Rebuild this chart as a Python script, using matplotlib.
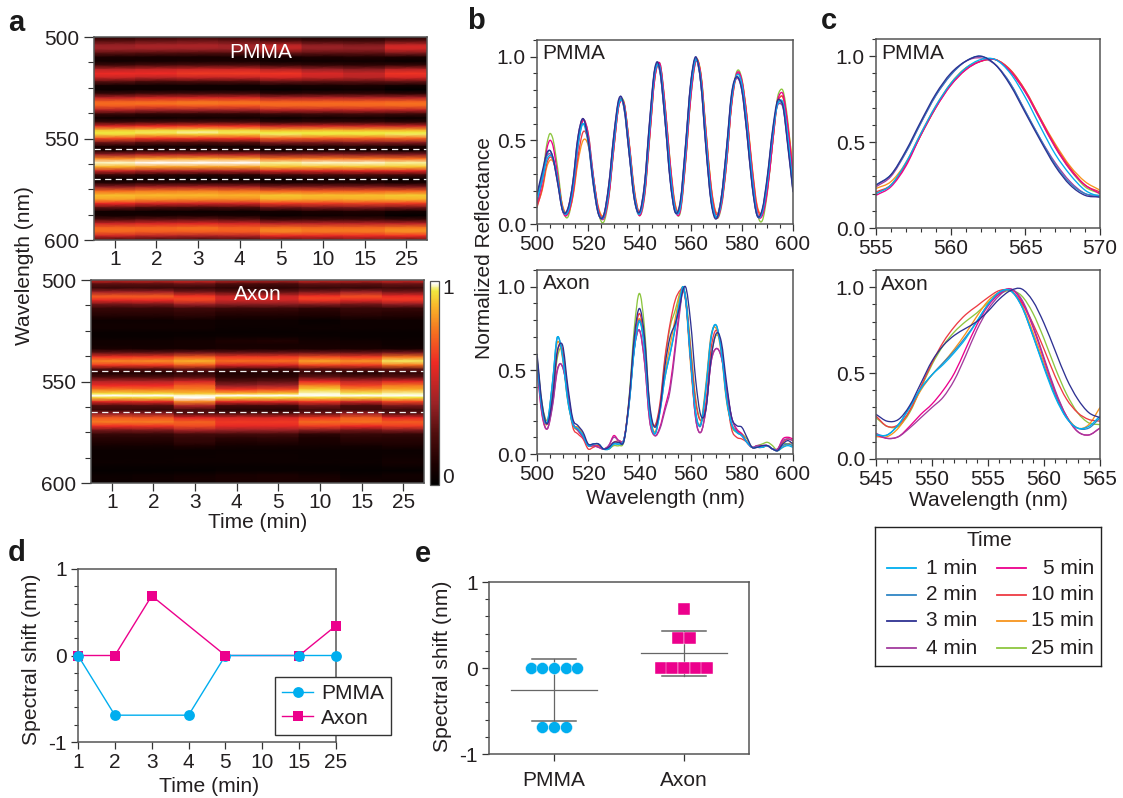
import numpy as np
import matplotlib
matplotlib.use('Agg')
import matplotlib.pyplot as plt
from matplotlib.colors import LinearSegmentedColormap
from matplotlib.cm import ScalarMappable
from matplotlib.colors import Normalize
from matplotlib.lines import Line2D
from matplotlib.patches import PathPatch
from matplotlib.path import Path
from matplotlib.ticker import MultipleLocator

plt.rcParams['font.family'] = ['Liberation Sans', 'DejaVu Sans']
W, H = 1123, 798
TXT = '#231f20'

time_labels = ['1', '2', '3', '4', '5', '10', '15', '25']
legend_labels = ['1 min', '2 min', '3 min', '4 min', '5 min', '10 min', '15 min', '25 min']
curve_colors = ['#00aeef', '#2f86c5', '#2e3192', '#a23c9e', '#ec008c', '#ee3a43', '#f7941d', '#8dc63f']
draw_order = [7, 6, 5, 4, 3, 1, 0, 2]

pmma_wl = [500,502,504,505,506,508,510,512,514,516,518,520,522,524,526,528,530,532,533,534,536,538,540,542,544,546,547,548,550,552,554,556,558,560,562,564,566,568,570,572,574,576,578,580,582,584,586,588,590,592,594,595,596,598,600]
pmma_1 = [14,26,39,41,40,27,9,7,21,47,60,51,27,7,4,19,48,72,74,71,46,18,6,20,56,90,95,94,67,32,9,10,41,79,98,87,51,18,4,13,39,74,89,84,60,29,6,7,25,52,72,74,73,52,22]
pmma_2 = [17,29,42,44,41,26,8,8,24,50,60,48,23,6,5,22,52,73,75,69,42,15,6,23,60,92,96,91,62,27,7,13,46,83,99,84,46,14,4,16,44,77,88,81,55,24,5,8,28,55,72,73,71,48,20]
pmma_3 = [18,31,43,44,41,25,8,9,25,52,63,50,24,6,5,23,53,75,76,70,42,15,7,24,62,93,97,92,62,26,7,14,47,84,100,84,45,13,3,16,45,78,88,80,54,23,5,9,29,56,74,74,71,46,19]
pmma_4 = [17,29,41,42,40,25,8,9,25,52,63,50,24,6,5,23,53,74,75,69,42,15,7,24,61,92,96,91,62,27,7,13,46,83,99,84,46,14,4,16,44,76,87,80,54,24,5,8,27,54,71,72,70,47,20]
pmma_5 = [12,25,46,50,48,30,8,6,19,46,62,54,29,8,3,16,45,71,74,72,48,19,5,17,52,87,95,96,71,36,9,8,37,75,97,89,54,20,4,11,36,72,90,86,63,32,7,5,20,48,74,78,78,58,27]
pmma_10 = [10,21,37,40,39,28,10,6,17,40,55,50,28,9,4,17,46,71,74,72,48,20,7,18,53,88,95,95,70,35,11,9,38,76,98,89,55,22,6,12,36,71,89,85,64,34,10,6,21,48,73,76,76,58,30]
pmma_15 = [11,20,35,38,38,28,11,6,16,37,50,47,28,10,5,17,45,71,74,72,49,21,7,18,52,87,95,95,71,37,12,9,37,75,98,90,56,23,7,12,36,71,89,86,65,35,11,7,21,48,73,76,76,59,33]
pmma_25 = [12,27,49,54,52,34,10,4,18,47,62,54,29,7,1,15,45,72,75,73,48,19,5,16,51,87,95,96,72,37,10,7,36,74,97,90,56,22,4,10,35,72,91,87,64,33,7,2,19,48,76,80,80,61,30]

axon_wl = [500,502,504,506,508,509,510,512,514,516,518,520,522,524,526,528,530,532,534,536,538,540,542,544,546,548,550,552,554,556,557,558,560,562,564,566,568,570,572,574,576,578,580,582,584,586,588,590,592,594,596,598,600]
axon_1 = [56,27,19,42,70,67,58,32,18,15,11,5,6,6,3,3,6,6,9,30,62,79,63,25,12,25,46,60,76,94,100,93,56,24,18,40,70,77,61,33,18,13,11,7,4,4,4,5,3,2,4,5,4]
axon_2 = [56,27,19,42,70,67,59,33,18,15,11,5,6,6,3,3,6,6,8,30,63,80,63,25,12,25,46,60,75,93,100,94,57,25,17,39,69,77,62,34,18,13,11,7,4,4,4,5,3,2,5,6,5]
axon_3 = [60,30,18,33,62,66,65,41,21,17,13,6,6,6,3,4,7,7,8,33,70,87,70,30,16,27,53,70,78,90,98,100,79,44,23,27,57,72,67,43,22,17,16,10,4,4,5,5,3,2,6,8,6]
axon_4 = [52,24,15,28,50,54,52,37,19,14,10,5,5,4,3,5,10,8,9,31,63,74,55,20,11,15,26,38,62,88,99,93,57,21,13,27,55,63,58,40,22,14,11,7,4,5,5,5,3,3,8,9,8]
axon_5 = [51,23,15,29,51,54,52,37,19,14,10,5,5,4,3,5,11,8,9,31,63,74,55,20,11,16,28,41,65,90,99,93,56,21,13,27,55,63,58,40,22,15,12,7,4,5,5,5,3,3,9,10,9]
axon_10 = [57,28,18,34,61,66,62,36,16,12,9,3,4,5,3,4,7,8,9,32,67,84,66,26,17,30,58,78,92,98,99,93,62,31,20,31,63,74,64,36,15,10,9,7,4,4,4,5,3,3,7,9,8]
axon_15 = [55,27,18,41,67,65,57,32,18,16,12,5,5,5,3,3,6,7,9,31,64,81,64,27,13,27,49,65,81,96,99,92,53,23,19,42,71,75,60,32,18,14,12,7,4,4,4,5,3,2,4,6,7]
axon_25 = [58,30,20,33,58,63,62,38,18,14,11,5,5,5,3,3,5,5,8,34,75,96,75,28,17,28,56,76,86,97,100,95,65,33,20,28,58,71,64,36,17,13,12,9,4,5,6,7,5,2,6,6,5]

zoom_pmma_wl = [555,556,557,558,559,560,561,562,563,564,565,566,567,568,569,570]
zoom_pmma_1 = [20,25,38,55,71,84,93,98,98,90,76,59,43,31,22,18]
zoom_pmma_2 = [25,31,44,61,77,89,97,100,95,84,68,52,37,26,20,19]
zoom_pmma_3 = [25,31,45,62,78,90,97,100,95,83,67,51,36,25,19,18]
zoom_pmma_4 = [24,30,44,61,77,89,97,99,95,84,68,52,38,27,20,18]
zoom_pmma_5 = [19,24,36,54,70,83,92,97,98,91,79,63,47,34,25,20]
zoom_pmma_10 = [21,25,37,54,70,83,92,97,98,92,80,64,48,35,25,21]
zoom_pmma_15 = [23,27,38,55,71,84,93,97,98,92,80,64,49,36,27,22]
zoom_pmma_25 = [20,25,37,54,70,84,93,97,98,91,79,63,47,34,24,20]

zoom_axon_wl = [545,546,547,548,549,550,551,552,553,554,555,556,557,558,559,560,561,562,563,564,565]
zoom_axon_1 = [14,14,20,30,41,49,55,62,70,80,90,97,98,89,72,53,36,24,18,19,25]
zoom_axon_2 = [14,14,20,30,41,49,56,63,71,80,90,97,98,89,72,54,37,24,18,18,24]
zoom_axon_3 = [26,22,23,31,44,57,66,72,76,80,86,93,98,99,92,79,63,47,35,27,24]
zoom_axon_4 = [15,12,13,18,24,30,36,46,60,75,87,95,99,93,78,59,40,25,16,14,18]
zoom_axon_5 = [14,12,13,19,26,32,40,50,64,78,89,96,99,92,77,58,39,25,16,14,18]
zoom_axon_10 = [25,19,20,28,42,56,68,77,84,89,94,98,98,91,79,64,48,35,27,23,22]
zoom_axon_15 = [13,13,18,28,40,49,56,64,73,83,92,97,98,90,74,56,38,25,18,20,30]
zoom_axon_25 = [24,19,19,27,41,55,66,74,80,85,91,96,98,95,85,70,53,38,27,21,20]

# Panels d and e
shift_times_pmma = ['1', '2', '4', '5', '15', '25']
shift_pmma = [0, -0.69, -0.69, 0, 0, 0]
shift_times_axon = ['1', '2', '3', '5', '15', '25']
shift_axon = [0, 0, 0.69, 0, 0, 0.345]
swarm_pmma = [0, 0, 0, 0, 0, -0.69, -0.69, -0.69]
swarm_axon = [0, 0, 0, 0, 0, 0.345, 0.345, 0.69]
mean_pmma, upper_pmma, lower_pmma = -0.26, 0.10, -0.615
mean_axon, upper_axon, lower_axon = 0.17, 0.43, -0.09

PMMA = [pmma_1, pmma_2, pmma_3, pmma_4, pmma_5, pmma_10, pmma_15, pmma_25]
AXON = [axon_1, axon_2, axon_3, axon_4, axon_5, axon_10, axon_15, axon_25]
ZP = [zoom_pmma_1, zoom_pmma_2, zoom_pmma_3, zoom_pmma_4, zoom_pmma_5, zoom_pmma_10, zoom_pmma_15, zoom_pmma_25]
ZA = [zoom_axon_1, zoom_axon_2, zoom_axon_3, zoom_axon_4, zoom_axon_5, zoom_axon_10, zoom_axon_15, zoom_axon_25]

cmap = LinearSegmentedColormap.from_list('film', [
    (0.0, '#000000'), (0.1, '#1c0000'), (0.25, '#4f0d0d'), (0.4, '#9a2226'), (0.6, '#ee2a24'),
    (0.75, '#f5701f'), (0.88, '#f9b82a'), (0.955, '#f0e840'), (0.99, '#ffffff'), (1.0, '#ffffff')])

fig = plt.figure(figsize=(W / 100, H / 100), dpi=100)


def axpx(l, t, r, b):
    return fig.add_axes([l / W, 1 - b / H, (r - l) / W, (b - t) / H])


def ftext(x, y, s, **kw):
    kw.setdefault('color', TXT)
    kw.setdefault('ha', 'center')
    kw.setdefault('va', 'center')
    return fig.text(x / W, 1 - y / H, s, **kw)


def style(ax, size=15):
    ax.tick_params(which='major', direction='out', length=6, width=0.9, color='#333333',
                   labelsize=size, labelcolor=TXT, pad=3)
    ax.tick_params(which='minor', direction='out', length=3.5, width=0.8, color='#333333')
    for s in ax.spines.values():
        s.set_color('#555555')
        s.set_linewidth(1.1)


def heat(ax, wl, data, lo, hi, label):
    for i, col in enumerate(data):
        v = np.array(col) / 100
        ax.pcolormesh([i + 0.5, i + 1.5], wl, np.column_stack([v, v]), shading='gouraud',
                      cmap=cmap, vmin=0, vmax=1)
    ax.set_xlim(0.5, 8.5)
    ax.set_ylim(600, 500)
    ax.set_xticks(range(1, 9))
    ax.set_xticklabels(time_labels)
    ax.set_yticks([500, 550, 600])
    ax.yaxis.set_minor_locator(MultipleLocator(12.5))
    style(ax)
    ax.tick_params(axis='x', pad=1)
    ax.tick_params(axis='y', which='major', length=7.5)
    ax.tick_params(axis='y', which='minor', length=4)
    for y in (lo, hi):
        ax.axhline(y, color='#f2f2f2', lw=0.9, dashes=(5, 3.5))
    ax.text(0.5, 0.93 if label == 'Axon' else 0.925, label, transform=ax.transAxes, color='white',
            fontsize=15, ha='center', va='center')


def smooth_curve(ax, x, y, color):
    # a curve through the read values, with cubic segments between them
    x = np.asarray(x, float)
    y = np.asarray(y, float)
    m = np.gradient(y, x)
    verts = [(x[0], y[0])]
    codes = [Path.MOVETO]
    for i in range(len(x) - 1):
        h = (x[i + 1] - x[i]) / 3
        verts += [(x[i] + h, y[i] + m[i] * h), (x[i + 1] - h, y[i + 1] - m[i + 1] * h), (x[i + 1], y[i + 1])]
        codes += [Path.CURVE4] * 3
    ax.add_patch(PathPatch(Path(verts, codes), fill=False, edgecolor=color, lw=0.95))


def spectra(ax, wl, data, xlim, xmaj, xmin, label, size=15):
    for i in draw_order:
        smooth_curve(ax, wl, np.array(data[i]) / 100, curve_colors[i])
    ax.set_xlim(*xlim)
    ax.set_ylim(0, 1.1)
    ax.xaxis.set_major_locator(MultipleLocator(xmaj))
    ax.xaxis.set_minor_locator(MultipleLocator(xmin))
    ax.yaxis.set_major_locator(MultipleLocator(0.5))
    ax.yaxis.set_minor_locator(MultipleLocator(0.1))
    ax.yaxis.set_major_formatter(lambda v, p: f'{v:.1f}')
    style(ax, size)
    ax.tick_params(which='major', length=5)
    ax.tick_params(which='minor', length=2.8)
    ax.text(0.022, 0.925, label, transform=ax.transAxes, fontsize=15, color=TXT, ha='left', va='center')


# a
ax_a1 = axpx(94, 37, 427, 240)
heat(ax_a1, pmma_wl, PMMA, 555, 570, 'PMMA')
ax_a2 = axpx(91, 280, 424, 483)
heat(ax_a2, axon_wl, AXON, 545, 565, 'Axon')
cax = axpx(430, 281, 439, 485)
cb = fig.colorbar(ScalarMappable(Normalize(0, 1), cmap), cax=cax)
cb.set_ticks([])
cb.outline.set_edgecolor('#555555')
cb.outline.set_linewidth(0.9)
ftext(442, 288, '1', fontsize=15, ha='left')
ftext(442, 477, '0', fontsize=15, ha='left')
ftext(25, 266, 'Wavelength (nm)', fontsize=15, rotation=90)
ftext(258, 522, 'Time (min)', fontsize=15)

# b
ax_b1 = axpx(537, 40, 793, 224)
spectra(ax_b1, pmma_wl, PMMA, (500, 600), 20, 5, 'PMMA')
ax_b2 = axpx(537, 270, 793, 454)
spectra(ax_b2, axon_wl, AXON, (500, 600), 20, 5, 'Axon')
ftext(484, 248, 'Normalized Reflectance', fontsize=15, rotation=90)
ftext(665, 499, 'Wavelength (nm)', fontsize=15)

# c
ax_c1 = axpx(876, 39, 1100, 228)
spectra(ax_c1, zoom_pmma_wl, ZP, (555, 570), 5, 1, 'PMMA')
ax_c2 = axpx(876, 270, 1100, 459)
spectra(ax_c2, zoom_axon_wl, ZA, (545, 565), 5, 1, 'Axon')
ftext(988, 500, 'Wavelength (nm)', fontsize=15)

# time legend
lg = axpx(875, 527, 1101, 666)
lg.set_xlim(875, 1101)
lg.set_ylim(666, 527)
lg.set_xticks([])
lg.set_yticks([])
for s in lg.spines.values():
    s.set_color('#222222')
    s.set_linewidth(1.0)
lg.text(989, 541, 'Time', fontsize=15, color=TXT, ha='center', va='center')
for i, lab in enumerate(legend_labels):
    col, row = divmod(i, 4)
    yy = [568, 595, 621, 648][row]
    x0, x1, xr = ((887, 916, 977) if col == 0 else (997, 1026, 1094))
    lg.add_line(Line2D([x0, x1], [yy, yy], color=curve_colors[i], lw=1.3))
    lg.text(xr, yy, lab, fontsize=15, color=TXT, ha='right', va='center')

# d
ax_d = axpx(78, 569, 336, 742)
pos_p = [time_labels.index(t) for t in shift_times_pmma]
pos_a = [time_labels.index(t) for t in shift_times_axon]
blue, pink = '#00aeef', '#ec008c'
h_a, = ax_d.plot(pos_a, shift_axon, '-s', color=pink, lw=1, ms=7.6, mew=0, clip_on=False, zorder=3, label='Axon')
h_p, = ax_d.plot(pos_p, shift_pmma, '-o', color=blue, lw=1, ms=7.8, mew=0, clip_on=False, zorder=4, label='PMMA')
ax_d.plot(pos_a, shift_axon, 's', color=pink, ms=7.6, mew=0, markevery=[3], clip_on=False, zorder=5)
ax_d.set_xlim(0, 7)
ax_d.set_ylim(-1, 1)
ax_d.set_xticks(range(8))
ax_d.set_xticklabels(time_labels)
ax_d.yaxis.set_major_locator(MultipleLocator(1))
ax_d.yaxis.set_minor_locator(MultipleLocator(0.2))
ax_d.yaxis.set_major_formatter(lambda v, p: f'{v:.0f}')
style(ax_d, 15)
ax_d.tick_params(which='major', length=5)
ax_d.tick_params(which='minor', length=2.8)
leg = fig.legend(handles=[h_p, h_a], loc='upper left', bbox_to_anchor=(275 / W, 1 - 677 / H), borderaxespad=0,
                 fontsize=15, fancybox=False, framealpha=1, edgecolor='#333333', labelspacing=0.28,
                 handlelength=1.5, handletextpad=0.38, borderpad=0.33, labelcolor=TXT)
leg.get_frame().set_linewidth(1.0)
leg.set_zorder(10)
ftext(32, 659, 'Spectral shift (nm)', fontsize=15.2, rotation=90)
ftext(209, 787, 'Time (min)', fontsize=15.2)

# e
ax_e = axpx(489, 582, 749, 754)


def swarm(ax, center, values, marker, color):
    step = 0.09
    vals = np.array(values)
    for v in np.unique(vals):
        n = int(np.sum(vals == v))
        ax.plot(center + (np.arange(n) - (n - 1) / 2) * step, [v] * n, marker, color=color, ms=8.6,
                mew=0.3, mec='white', zorder=3)


def summary(ax, center, mean, up, lo):
    c = '#666666'
    ax.plot([center, center], [lo, up], color=c, lw=0.9, zorder=2)
    ax.plot([center - 0.33, center + 0.33], [mean, mean], color=c, lw=0.9, zorder=4)
    for y in (up, lo):
        ax.plot([center - 0.167, center + 0.167], [y, y], color=c, lw=1.1, zorder=4)


swarm(ax_e, 1, swarm_pmma, 'o', blue)
swarm(ax_e, 2, swarm_axon, 's', pink)
summary(ax_e, 1, mean_pmma, upper_pmma, lower_pmma)
summary(ax_e, 2, mean_axon, upper_axon, lower_axon)
ax_e.set_xlim(0.5, 2.5)
ax_e.set_ylim(-1, 1)
ax_e.set_xticks([1, 2])
ax_e.set_xticklabels(['PMMA', 'Axon'])
ax_e.yaxis.set_major_locator(MultipleLocator(1))
ax_e.yaxis.set_minor_locator(MultipleLocator(0.2))
ax_e.yaxis.set_major_formatter(lambda v, p: f'{v:.0f}')
style(ax_e, 15)
ax_e.tick_params(which='major', length=5)
ax_e.tick_params(which='minor', length=2.8)
ax_e.tick_params(axis='x', pad=7)
ftext(442, 666, 'Spectral shift (nm)', fontsize=15.2, rotation=90)

# panel letters
for x, y, s in [(8, 31, 'a'), (467, 29, 'b'), (821, 29, 'c'), (8, 561, 'd'), (415, 562, 'e')]:
    ftext(x, y, s, fontsize=21, fontweight='bold', ha='left', va='baseline', color='#1a1a1a')

fig.savefig('out.png', dpi=100)
